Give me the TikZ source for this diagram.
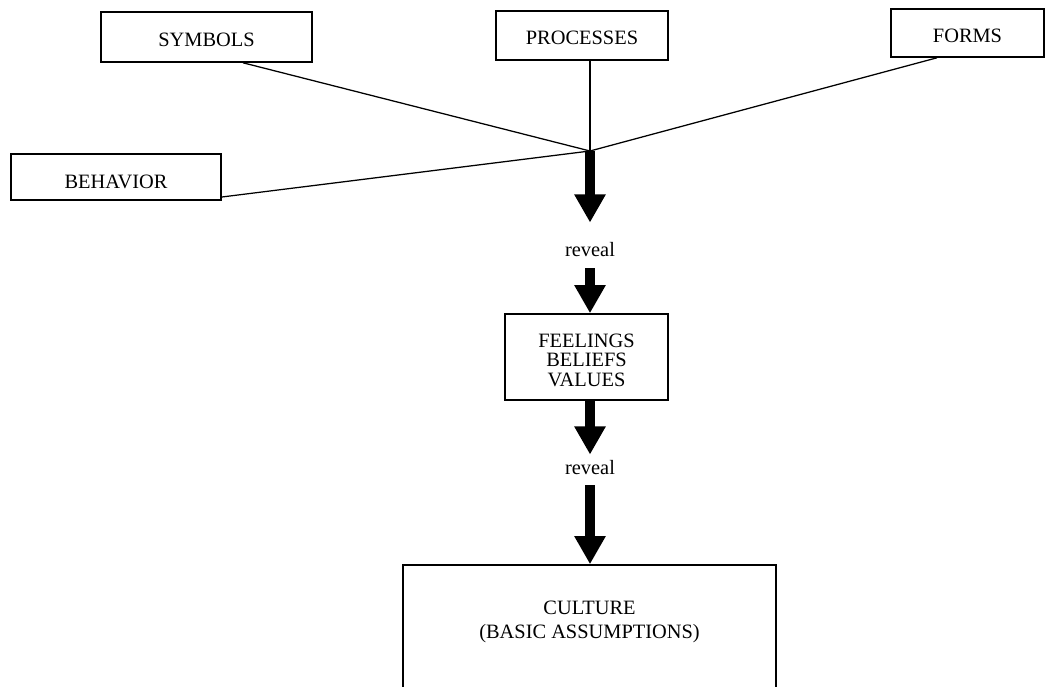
\documentclass[tikz,border=0pt]{standalone}
\usepackage{fontspec}
\setmainfont{Liberation Serif}
\usetikzlibrary{arrows.meta}
\begin{document}
\begin{tikzpicture}[x=0.025cm,y=-0.025cm,
  box/.style={draw,line width=1.1pt,inner sep=0pt,align=center,font=\fontsize{14.5}{14}\selectfont},
  onebox/.style={box,text height=13.5pt,text depth=0pt},
  lbl/.style={inner sep=0pt,font=\fontsize{14.5}{17}\selectfont},
  link/.style={line width=0.9pt},
  bigarrow/.style={line width=7pt,-{Triangle[length=20pt,width=21pt]}}]
\useasboundingbox (0,0) rectangle (1046,686);
\clip (0,0) rectangle (1046,686);
\node[onebox,minimum width=5.275cm,minimum height=1.25cm] (sym) at (206.5,37) {SYMBOLS};
\node[onebox,minimum width=4.3cm,minimum height=1.225cm] (proc) at (582,35.5) {PROCESSES};
\node[onebox,minimum width=3.825cm,minimum height=1.2cm] (forms) at (967.5,33) {FORMS};
\node[onebox,text height=16pt,minimum width=5.25cm,minimum height=1.15cm] (beh) at (116,177) {BEHAVIOR};
\coordinate (J) at (590,151);
\draw[link] (sym.south -| 243,0) -- (J);
\draw[link] (proc.south -| J) -- (J);
\draw[link] (forms.south -| 937,0) -- (J);
\draw[link] (beh.east |- 0,197) -- (J);
\node[lbl] (r1) at (590,250) {reveal};
\node[box,minimum width=4.075cm,minimum height=2.15cm] (feel) at (586.5,357) {\rule{0pt}{6pt}\\[-6pt]FEELINGS\\BELIEFS\\VALUES};
\node[lbl] (r2) at (590,468) {reveal};
\node[box,font=\fontsize{14.5}{17}\selectfont,minimum width=9.325cm,minimum height=3.35cm] (cult) at (589.5,632) {CULTURE\\(BASIC ASSUMPTIONS)\\\mbox{}};
\draw[bigarrow,shorten >=0.5cm] (J) -- (r1.north);
\draw[bigarrow,shorten <=0.275cm] (r1.south) -- (feel.north -| r1);
\draw[bigarrow,shorten >=0.15cm] (feel.south -| r2) -- (r2.north);
\draw[bigarrow,shorten <=0.25cm] (r2.south) -- (cult.north -| r2);
\end{tikzpicture}
\end{document}
